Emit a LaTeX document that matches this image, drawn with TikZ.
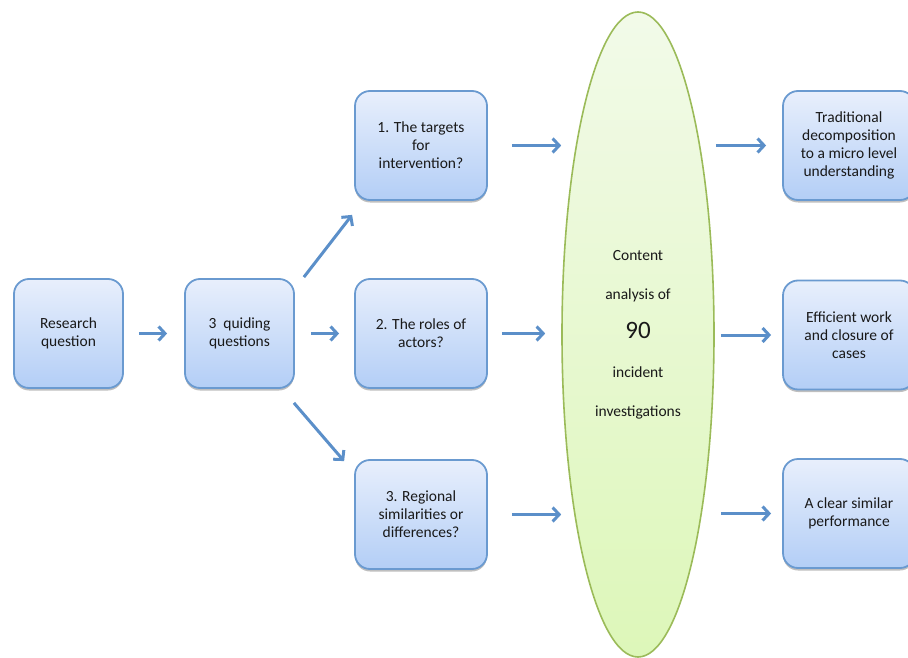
\documentclass[tikz,border=0pt]{standalone}
\usepackage{fontspec}
\setmainfont{Carlito}
\usetikzlibrary{shapes.geometric,arrows.meta,shadows}
\definecolor{boxtop}{HTML}{E8EFFC}
\definecolor{boxbot}{HTML}{B3CEF6}
\definecolor{boxline}{HTML}{6A9AD0}
\definecolor{arrcol}{HTML}{5B8FC9}
\definecolor{elltop}{HTML}{F2FAE9}
\definecolor{ellbot}{HTML}{DDF7B9}
\definecolor{ellline}{HTML}{9BBB59}
\begin{document}
\begin{tikzpicture}[x=1pt,y=-1pt,
  box/.style={draw=boxline, line width=1.8pt, rounded corners=15pt,
    top color=boxtop, bottom color=boxbot, minimum width=132pt, minimum height=109pt,
    inner sep=0pt, align=center, text=black!90,
    font=\fontsize{15.5}{18}\selectfont,
    drop shadow={shadow xshift=0pt, shadow yshift=-2.5pt, opacity=0.25, fill=black}},
  sbox/.style={box, minimum width=109pt},
  arr/.style={draw=arrcol, line width=3pt, -{Straight Barb[length=6.5pt,width=14pt]}},
  ell/.style={ellipse, draw=ellline, line width=1.6pt, top color=elltop, bottom color=ellbot,
    minimum width=152pt, minimum height=645pt, inner sep=0pt, align=center, text=black!90,
    font=\fontsize{15.5}{39}\selectfont}
]
\useasboundingbox (0,0) rectangle (908,658);
\clip (0,0) rectangle (908,658);

\node[sbox] (r) at (68.5,333.5) {Research\\question};
\node[sbox] (q) at (239.5,333.5) {3\ \ quiding\\questions};
\node[box] (b1) at (421,145.5) {1. The targets\\for\\intervention?};
\node[box] (b2) at (421,333.5) {2. The roles of\\actors?};
\node[box] (b3) at (421,514.5) {3. Regional\\similarities or\\differences?};
\node[ell] (e) at (638,334.5) {Content\\analysis of\\{\fontsize{25}{39}\selectfont 90}\\incident\\investigations};
\node[box] (o1) at (849,145.5) {Traditional\\decomposition\\to a micro level\\understanding};
\node[box] (o2) at (849,335) {Efficient work\\and closure of\\cases};
\node[box] (o3) at (849,513.5) {A clear similar\\performance};

\draw[arr, shorten <=15pt, shorten >=17pt] (r.east) -- (q.west);
\draw[arr] ([shift={(9,-1)}]q.north east) -- ([shift={(-2,14)}]b1.south west);
\draw[arr, shorten <=16pt, shorten >=15pt] (q.east) -- (b2.west);
\draw[arr] ([shift={(-1,14)}]q.south east) -- ([shift={(-10,2)}]b3.north west);

\draw[arr, shorten <=24pt, shorten >=0pt] (b1.east) -- (b1.east -| e.west);
\draw[arr, shorten <=14pt, shorten >=16pt] (b2.east) -- (b2.east -| e.west);
\draw[arr, shorten <=24pt, shorten >=0pt] (b3.east) -- (b3.east -| e.west);

\draw[arr, shorten <=1pt, shorten >=16pt] (o1.west -| e.east) -- (o1.west);
\draw[arr, shorten <=6pt, shorten >=11pt] (o2.west -| e.east) -- (o2.west);
\draw[arr, shorten <=6pt, shorten >=11pt] (o3.west -| e.east) -- (o3.west);
\end{tikzpicture}
\end{document}
